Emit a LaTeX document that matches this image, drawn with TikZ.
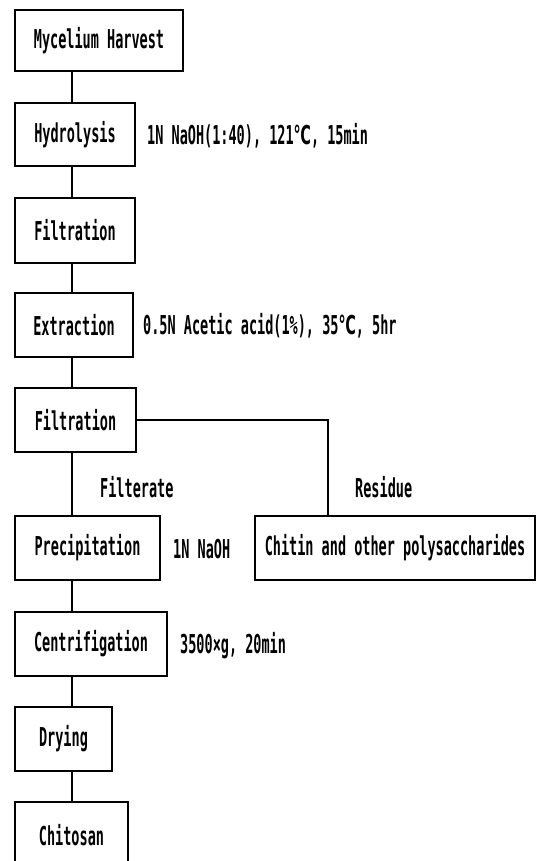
\documentclass[tikz,border=0pt]{standalone}
\usepackage{fontspec}
\newfontfamily\boxfont[FakeStretch=0.52]{DejaVu Sans Mono}
\newfontfamily\symfont[FakeStretch=0.55]{DejaVu Sans}
\newcommand{\degC}{{\symfont ℃}}
\begin{document}
\begin{tikzpicture}[x=1pt,y=-1pt,
  stepbox/.style={draw, line width=1.4pt, inner sep=0pt, font=\boxfont\bfseries\fontsize{26}{30}\selectfont},
  cond/.style={anchor=west, inner sep=0pt, font=\boxfont\bfseries\fontsize{26}{30}\selectfont},
  conn/.style={line width=1.4pt}]
\useasboundingbox (0,0) rectangle (540,861);
\clip (0,0) rectangle (540,861);
\coordinate (xc) at (72,0);
\node[stepbox, minimum width=168pt, minimum height=61pt] (m) at (99,40.5) {Mycelium Harvest};
\node[stepbox, minimum width=120pt, minimum height=63pt] (h) at (75,134.5) {Hydrolysis};
\node[stepbox, minimum width=120pt, minimum height=65pt] (f1) at (75,230.5) {Filtration};
\node[stepbox, minimum width=118pt, minimum height=64pt] (e) at (74,325) {Extraction};
\node[stepbox, minimum width=121pt, minimum height=64pt] (f2) at (75.5,420) {Filtration};
\node[stepbox, minimum width=145pt, minimum height=64pt] (p) at (87.5,548) {Precipitation};
\node[stepbox, minimum width=280pt, minimum height=64pt] (ch) at (395,548) {Chitin and other polysaccharides};
\node[stepbox, minimum width=152pt, minimum height=64pt] (c) at (91,644) {Centrifigation};
\node[stepbox, minimum width=97pt, minimum height=64pt] (d) at (63.5,739) {Drying};
\node[stepbox, minimum width=113pt, minimum height=66pt] (cs) at (71.5,835) {Chitosan};
\node[cond] (hc) at (147,136) {1N NaOH(1:40), 121\degC, 15min};
\node[cond] (ec) at (143,326) {0.5N Acetic acid(1\%), 35\degC, 5hr};
\node[cond] (pc) at (173,549) {1N NaOH};
\node[cond] (cc) at (180,646) {3500×g, 20min};
\node[cond] (fl) at (100,487) {Filterate};
\node[cond] (rl) at (355,487) {Residue};
\draw[conn] (m.south -| xc) -- (h.north -| xc);
\draw[conn] (h.south -| xc) -- (f1.north -| xc);
\draw[conn] (f1.south -| xc) -- (e.north -| xc);
\draw[conn] (e.south -| xc) -- (f2.north -| xc);
\draw[conn] (f2.south -| xc) -- (p.north -| xc);
\draw[conn] (p.south -| xc) -- (c.north -| xc);
\draw[conn] (c.south -| xc) -- (d.north -| xc);
\draw[conn] (d.south -| xc) -- (cs.north -| xc);
\coordinate (rc) at (328,0);
\draw[conn] (f2.east) -- (f2.east -| rc) -- (ch.north -| rc);
\end{tikzpicture}
\end{document}
